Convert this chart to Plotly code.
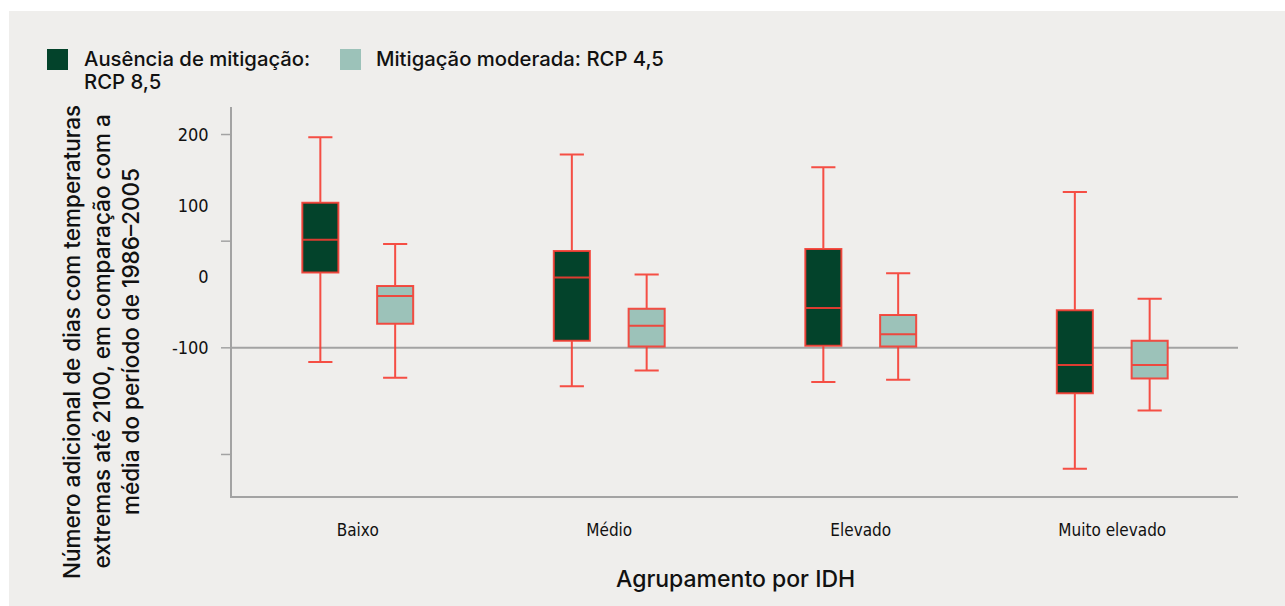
import plotly.graph_objects as go

# HDI groups and box statistics (additional extreme-heat days by 2100)
categories = ["Baixo", "Médio", "Elevado", "Muito elevado"]

rcp85_upper = [196, 172, 154, 119]
rcp85_q3 = [104, 36, 39, -47]
rcp85_median = [52, -1, -44, -124]
rcp85_q1 = [6, -90, -97, -164]
rcp85_lower = [-120, -154, -148, -270]

rcp45_upper = [46, 3, 5, -31]
rcp45_q3 = [-13, -45, -54, -90]
rcp45_median = [-27, -69, -81, -124]
rcp45_q1 = [-66, -98, -98, -143]
rcp45_lower = [-142, -132, -145, -188]

ytick_labels = [200, 100, 0, -100]
ytick_marks = [200, 50, -100, -250]

DARK = "#03432b"
LIGHT = "#9cc2b9"
RED = "rgba(245,60,50,0.9)"
AXIS = "#a3a3a3"
BG = "#efeeec"
TEXT_FONT = "Inter"
TICK_FONT = "Liberation Sans Narrow, DejaVu Sans Condensed, Arial Narrow, sans-serif"

W, H = 1285, 606
L, R, T, B = 232, 47, 107, 110
PW, PH = W - L - R, H - T - B


def px_x(x):
    return (x - L) / PW


def px_y(y):
    return (H - B - y) / PH


fig = go.Figure()

fig.add_trace(go.Box(
    name="Ausência de mitigação: RCP 8,5",
    x=categories,
    q1=rcp85_q1, median=rcp85_median, q3=rcp85_q3,
    lowerfence=rcp85_lower, upperfence=rcp85_upper,
    fillcolor=DARK,
    line=dict(color=RED, width=2),
    whiskerwidth=0.67,
    boxpoints=False,
    showlegend=False,
))
fig.add_trace(go.Box(
    name="Mitigação moderada: RCP 4,5",
    x=categories,
    q1=rcp45_q1, median=rcp45_median, q3=rcp45_q3,
    lowerfence=rcp45_lower, upperfence=rcp45_upper,
    fillcolor=LIGHT,
    line=dict(color=RED, width=2),
    whiskerwidth=0.67,
    boxpoints=False,
    showlegend=False,
))

shapes = [
    # grey panel behind everything, leaving a thin white frame top and left
    dict(type="rect", xref="paper", yref="paper", layer="below",
         x0=px_x(9), x1=px_x(W + 5), y0=px_y(H + 5), y1=px_y(11),
         fillcolor=BG, line=dict(width=0)),
    # reference line at -100
    dict(type="line", xref="paper", yref="y", layer="below",
         x0=0, x1=1, y0=-100, y1=-100,
         line=dict(color=AXIS, width=2)),
]
# y-axis tick marks
for v in ytick_marks:
    shapes.append(dict(type="line", xref="paper", yref="y",
                       x0=px_x(L - 11), x1=0, y0=v, y1=v,
                       line=dict(color=AXIS, width=1.5)))
# legend swatches
shapes.append(dict(type="rect", xref="paper", yref="paper",
                   x0=px_x(47), x1=px_x(68), y0=px_y(70), y1=px_y(49),
                   fillcolor=DARK, line=dict(width=0)))
shapes.append(dict(type="rect", xref="paper", yref="paper",
                   x0=px_x(340), x1=px_x(361), y0=px_y(70), y1=px_y(49),
                   fillcolor=LIGHT, line=dict(width=0)))

annotations = [
    dict(text="Ausência de mitigação:", x=px_x(82), y=px_y(59),
         xanchor="left", yanchor="middle"),
    dict(text="RCP 8,5", x=px_x(82), y=px_y(81),
         xanchor="left", yanchor="middle"),
    dict(text="Mitigação moderada: RCP 4,5", x=px_x(374), y=px_y(59),
         xanchor="left", yanchor="middle"),
]
for a in annotations:
    a.update(xref="paper", yref="paper", showarrow=False,
             font=dict(family=TEXT_FONT, size=20.3, color="#111111", weight=500))

ytitle_lines = [
    "Número adicional de dias com temperaturas",
    "extremas até 2100, em comparação com a",
    "média do período de 1986–2005",
]
for xpos, line in zip([71, 100.5, 130], ytitle_lines):
    annotations.append(dict(
        text=line, xref="paper", yref="paper", showarrow=False,
        x=px_x(xpos), y=px_y(342), xanchor="center", yanchor="middle",
        textangle=-90,
        font=dict(family=TEXT_FONT, size=22.5, color="#111111", weight=500),
    ))
annotations.append(dict(
    text="Agrupamento por IDH", xref="paper", yref="paper", showarrow=False,
    x=0.5, y=px_y(579), xanchor="center", yanchor="middle",
    font=dict(family=TEXT_FONT, size=23, color="#111111", weight=500),
))

fig.update_layout(
    width=W, height=H,
    margin=dict(l=L, r=R, t=T, b=B, pad=0),
    paper_bgcolor="white",
    plot_bgcolor="rgba(0,0,0,0)",
    boxmode="group",
    boxgap=0.405,
    boxgroupgap=0.518,
    shapes=shapes,
    annotations=annotations,
    xaxis=dict(
        showline=True, linecolor=AXIS, linewidth=1.5,
        showgrid=False, zeroline=False,
        ticks="outside", ticklen=18, tickcolor="rgba(0,0,0,0)",
        tickfont=dict(family=TICK_FONT, size=17, color="#111111"),
    ),
    yaxis=dict(
        range=[-308.4, 238.7],
        showline=True, linecolor=AXIS, linewidth=1.5,
        showgrid=False, zeroline=False,
        tickvals=ytick_labels, ticktext=[str(v) for v in ytick_labels],
        ticks="outside", ticklen=18, tickcolor="rgba(0,0,0,0)",
        tickfont=dict(family=TICK_FONT, size=18, color="#111111"),
    ),
)

fig.write_html("out.html")
